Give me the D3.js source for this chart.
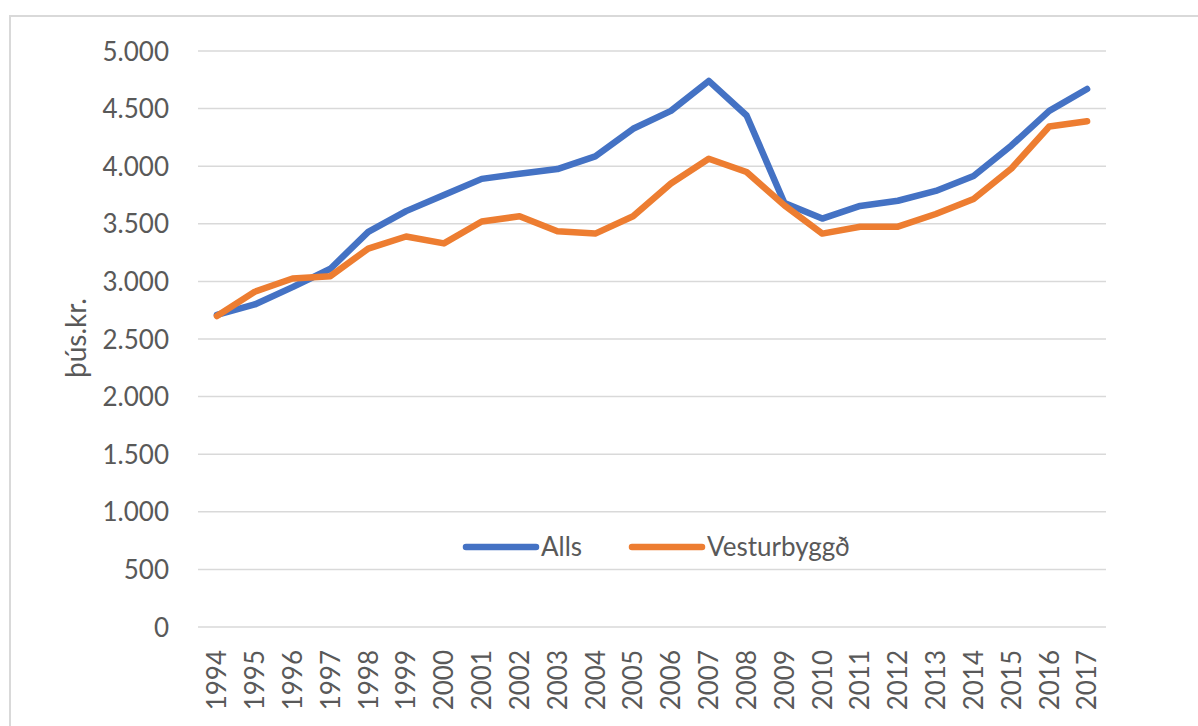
<!DOCTYPE html>
<html><head><meta charset="utf-8">
<script src="https://cdn.jsdelivr.net/npm/d3@7"></script>
<style>body{margin:0;background:#fff;} svg{display:block;}</style>
</head><body>
<svg id="c" width="1198" height="726"></svg>
<script>
const years = ["1994","1995","1996","1997","1998","1999","2000","2001","2002","2003","2004","2005","2006","2007","2008","2009","2010","2011","2012","2013","2014","2015","2016","2017"];
const alls = [2710,2800,2950,3110,3430,3610,3750,3890,3935,3975,4085,4325,4480,4740,4440,3680,3545,3655,3700,3785,3915,4180,4480,4670];
const vesturbyggd = [2700,2910,3025,3045,3285,3390,3330,3520,3565,3435,3415,3565,3850,4065,3950,3660,3415,3475,3475,3585,3715,3980,4345,4390];
const yTicks = [0,500,1000,1500,2000,2500,3000,3500,4000,4500,5000];
const seriesNames = ["Alls","Vesturbyggð"];
const colors = ["#4472c4","#ed7d31"];

const svg = d3.select("#c");
const font = "Lato, 'Open Sans', sans-serif";
const txt = "#595959";
const L = 198, R = 1106, T = 51, B = 627;

svg.append("rect").attr("x",10).attr("y",16).attr("width",1300).attr("height",800)
  .attr("fill","#fff").attr("stroke","#d9d9d9").attr("stroke-width",2);

const x = d3.scaleBand().domain(years).range([L,R]);
const y = d3.scaleLinear().domain([0,5000]).range([B,T]);

// gridlines
svg.append("g").selectAll("line").data(yTicks).join("line")
  .attr("x1",L).attr("x2",R).attr("y1",d=>y(d)).attr("y2",d=>y(d))
  .attr("stroke","#d9d9d9").attr("stroke-width",1.5);

// y axis labels
const yAxis = d3.axisLeft(y).tickValues(yTicks).tickSize(0).tickPadding(0)
  .tickFormat(d=>d3.format(",")(d).replace(/,/g,"."));
const gy = svg.append("g").attr("transform",`translate(${169},0)`).call(yAxis);
gy.select(".domain").remove();
gy.selectAll("text").attr("font-family",font).attr("font-size",26).attr("fill",txt).attr("dy","0.35em");

// x axis labels
const xAxis = d3.axisBottom(x).tickSize(0).tickPadding(0);
const gx = svg.append("g").attr("transform",`translate(0,${B})`).call(xAxis);
gx.select(".domain").remove();
gx.selectAll("text").attr("font-family",font).attr("font-size",26).attr("fill",txt)
  .attr("text-anchor","end").attr("transform","rotate(-90)")
  .attr("x",-23).attr("y",0).attr("dy","0.36em");

// y title
svg.append("text").attr("transform","translate(76,338) rotate(-90)")
  .attr("text-anchor","middle").attr("dy","0.35em")
  .attr("font-family",font).attr("font-size",28).attr("fill",txt).text("þús.kr.");

// lines
const line = d3.line().x((d,i)=>x(years[i])+x.bandwidth()/2).y(d=>y(d));
[alls,vesturbyggd].forEach((s,k)=>{
  svg.append("path").datum(s).attr("d",line).attr("fill","none")
    .attr("stroke",colors[k]).attr("stroke-width",6.5)
    .attr("stroke-linejoin","round").attr("stroke-linecap","round");
});

// legend
const legendX = [466,632];
seriesNames.forEach((n,k)=>{
  const g = svg.append("g");
  g.append("line").attr("x1",legendX[k]).attr("x2",legendX[k]+70).attr("y1",547).attr("y2",547)
    .attr("stroke",colors[k]).attr("stroke-width",6.5).attr("stroke-linecap","round");
  g.append("text").attr("x",legendX[k]+75).attr("y",547).attr("dy","0.35em")
    .attr("font-family",font).attr("font-size",26).attr("fill",txt).text(n);
});
</script>
</body></html>
